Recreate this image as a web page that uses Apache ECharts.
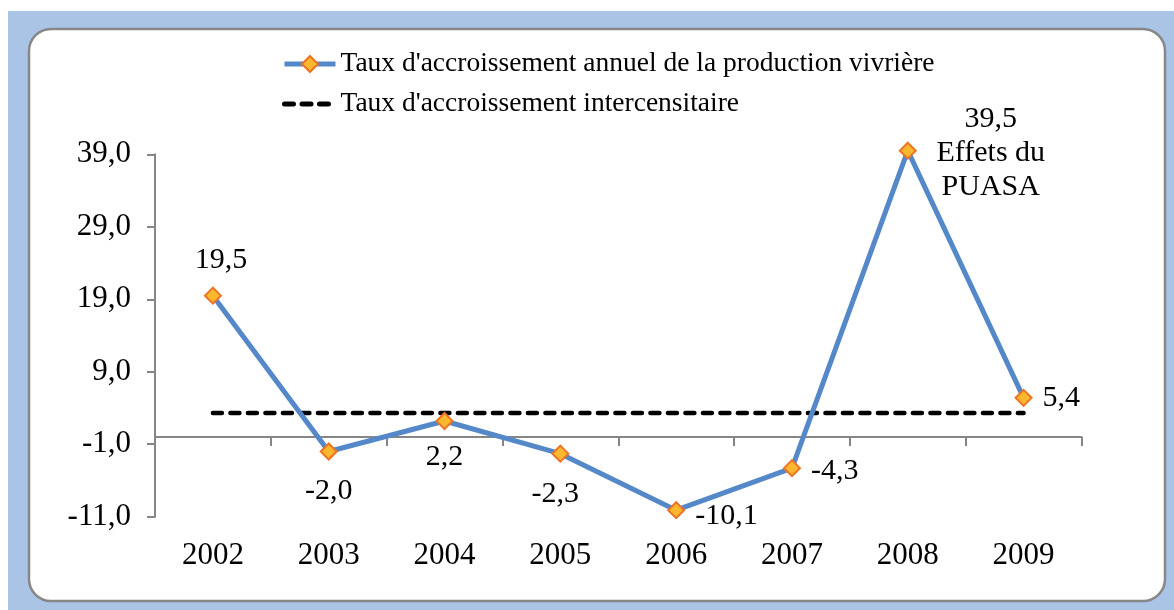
<!DOCTYPE html>
<html>
<head>
<meta charset="utf-8">
<script src="https://cdn.jsdelivr.net/npm/echarts@6/dist/echarts.min.js"></script>
<style>
html,body{margin:0;padding:0;background:#fff;}
#chart{width:1174px;height:610px;}
</style>
</head>
<body>
<div id="chart"></div>
<script>
const categories = ['2002','2003','2004','2005','2006','2007','2008','2009'];
const annualGrowth = [19.5, -2.0, 2.2, -2.3, -10.1, -4.3, 39.5, 5.4];
const intercensalRate = [3.3, 3.3, 3.3, 3.3, 3.3, 3.3, 3.3, 3.3];
const yTickValues = [-11, -1, 9, 19, 29, 39];
const seriesNames = ["Taux d'accroissement annuel de la production vivrière", "Taux d'accroissement intercensitaire"];
const annotations = {6: 'Effets du\nPUASA'};

const fmt = v => v.toFixed(1).replace('.', ',');
const FONT = '"Liberation Serif", "Times New Roman", serif';

// label placement styling per point
const labelStyles = [
  {position: 'top', distance: 12, offset: [8, 0]},
  {position: 'bottom', distance: 16},
  {position: 'bottom', distance: 12},
  {position: 'bottom', distance: 16, offset: [-5, 0]},
  {position: 'right', distance: 10, offset: [0, 6]},
  {position: 'right', distance: 10, offset: [0, 3]},
  {position: 'right', distance: 8, align: 'center', offset: [66, 2], lineHeight: 34},
  {position: 'right', distance: 10}
];

const chart = echarts.init(document.getElementById('chart'));
chart.setOption({
  animation: false,
  backgroundColor: '#ffffff',
  graphic: [
    {type: 'rect', z: -10, shape: {x: 8, y: 11, width: 1166, height: 599}, style: {fill: '#aac4e6'}, silent: true},
    {type: 'rect', z: -9, shape: {x: 29, y: 29, width: 1136, height: 572, r: 22}, style: {fill: '#ffffff', stroke: '#878787', lineWidth: 2.5}, silent: true}
  ],
  legend: {
    orient: 'vertical',
    left: 277,
    top: 44,
    itemWidth: 51,
    itemHeight: 20,
    itemGap: 10,
    textStyle: {fontFamily: FONT, fontSize: 27.5, color: '#000', lineHeight: 30},
    data: [
      {name: seriesNames[0], lineStyle: {width: 5}},
      {name: seriesNames[1], lineStyle: {width: 5}}
    ]
  },
  grid: {left: 155, right: 92.5, top: 154.3, bottom: 93.3, containLabel: false},
  xAxis: [
    {
      type: 'category',
      data: categories,
      boundaryGap: true,
      position: 'bottom',
      axisLine: {onZero: true, lineStyle: {color: '#868686', width: 2}},
      axisTick: {show: true, length: 9, lineStyle: {color: '#868686', width: 2}},
      axisLabel: {show: false}
    },
    {
      type: 'category',
      data: categories,
      boundaryGap: true,
      position: 'bottom',
      axisLine: {show: false, onZero: false},
      axisTick: {show: false},
      axisLabel: {show: true, margin: 24, fontFamily: FONT, fontSize: 31, color: '#000'}
    }
  ],
  yAxis: {
    type: 'value',
    min: -11,
    max: 39,
    axisLine: {show: true, lineStyle: {color: '#868686', width: 2}},
    axisTick: {show: true, length: 8, customValues: yTickValues, lineStyle: {color: '#868686', width: 2}},
    splitLine: {show: false},
    axisLabel: {customValues: yTickValues, margin: 24, fontFamily: FONT, fontSize: 31, color: '#000', formatter: v => fmt(v)}
  },
  series: [
    {
      name: seriesNames[0],
      type: 'line',
      xAxisIndex: 0,
      z: 5,
      clip: false,
      data: annualGrowth.map((v, i) => ({
        value: v,
        label: Object.assign({show: true}, labelStyles[i])
      })),
      symbol: 'diamond',
      symbolSize: 16,
      showAllSymbol: true,
      lineStyle: {color: '#5588c8', width: 5},
      itemStyle: {color: '#fbb72d', borderColor: '#ec7424', borderWidth: 2},
      label: {
        fontFamily: FONT, fontSize: 30, color: '#000',
        formatter: p => annotations[p.dataIndex] ? fmt(p.value) + '\n' + annotations[p.dataIndex] : fmt(p.value)
      }
    },
    {
      name: seriesNames[1],
      type: 'line',
      xAxisIndex: 0,
      z: 4,
      clip: false,
      data: intercensalRate,
      symbol: 'circle',
      showSymbol: false,
      lineStyle: {color: '#000', width: 4.5, type: [9, 8.5], cap: 'round'},
      itemStyle: {color: 'rgba(0,0,0,0)'}
    }
  ]
});
</script>
</body>
</html>
